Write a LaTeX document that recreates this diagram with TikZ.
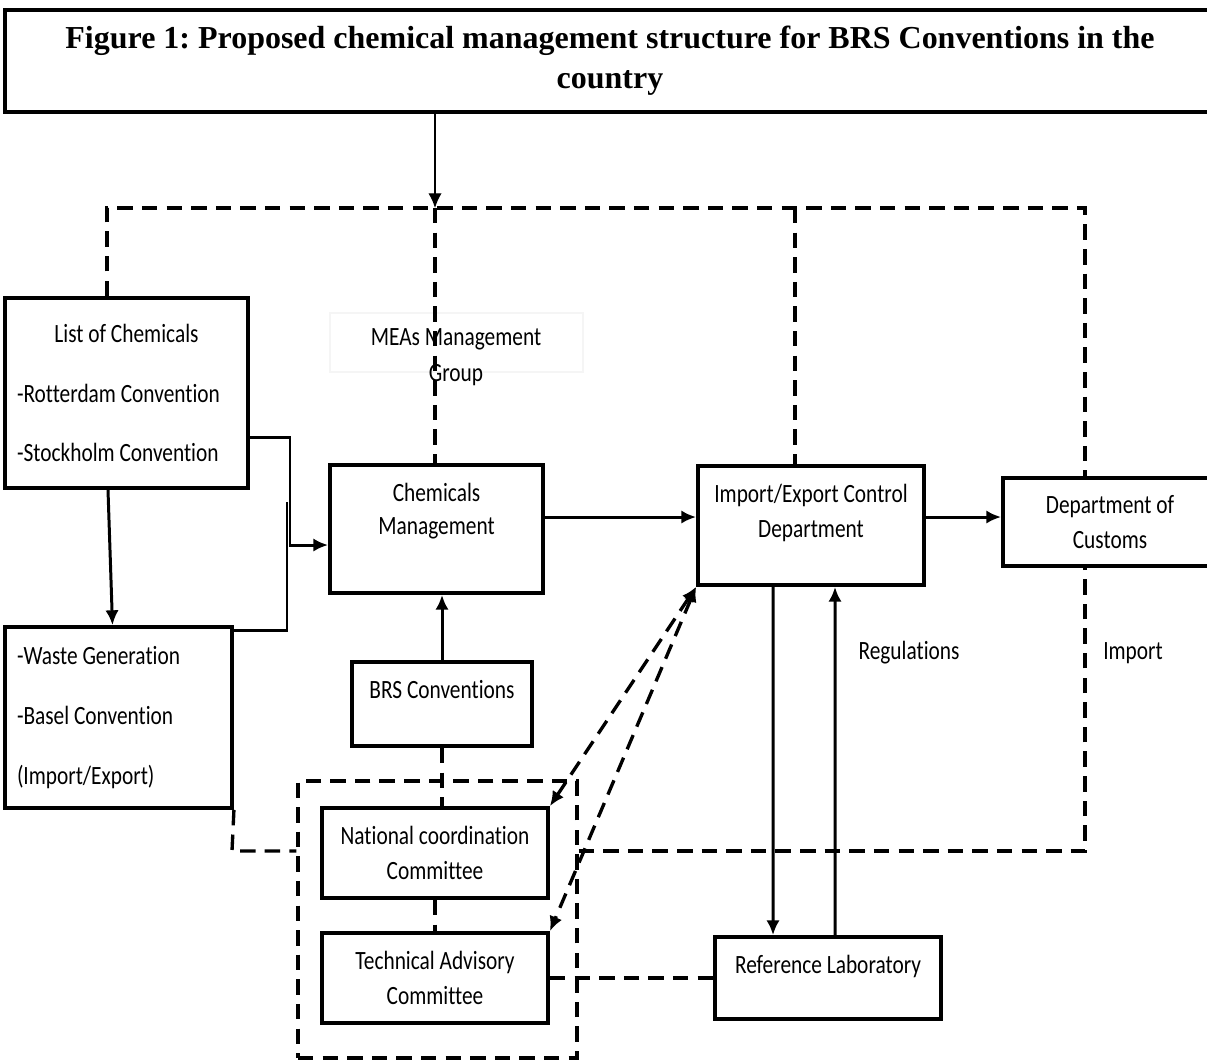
\documentclass[tikz,border=0pt]{standalone}
\usepackage{fontspec}
\setmainfont{Carlito}[FakeStretch=0.81,Ligatures=NoCommon]
\newfontfamily\titlefont{Liberation Serif}
\usetikzlibrary{arrows.meta}
\frenchspacing

\begin{document}
\begin{tikzpicture}[x=1cm,y=-1cm,
  >={Latex[length=4.2pt,width=3.8pt]},
  box/.style={draw, line width=1.1pt, inner sep=0pt, align=center,
    font=\fontsize{7.5}{10}\selectfont},
  listbox/.style={box, align=flush left, inner xsep=0.12cm,
    font=\fontsize{7.5}{17}\selectfont},
  line/.style={line width=0.85pt},
  dline/.style={line width=0.95pt, dash pattern=on 4.4pt off 2.6pt},
  lbl/.style={align=center, inner sep=0pt, font=\fontsize{7.5}{10.2}\selectfont}]
  \useasboundingbox (0,0) rectangle (12.07,10.61);

  % Title
  \node[draw, line width=1.1pt, minimum width=12.1cm, minimum height=1.02cm,
    align=center, font=\titlefont\bfseries\fontsize{9.1}{11.4}\selectfont]
    (title) at (6.10,0.61)
    {Figure 1: Proposed chemical management structure for BRS Conventions in the\\country};

  % Boxes
  \node[listbox, text width=2.19cm, minimum height=1.90cm] (chemlist) at (1.265,3.93)
    {\makebox[\hsize]{List of Chemicals}\\-Rotterdam Convention\\-Stockholm Convention};
  \node[listbox, text width=2.03cm, minimum height=1.81cm] (waste) at (1.185,7.175)
    {-Waste Generation\\-Basel Convention\\(Import/Export)};
  \node[box, minimum width=2.13cm, minimum height=1.28cm, text depth=0.41cm,
    font=\fontsize{7.5}{9.4}\selectfont] (chemmgmt) at (4.365,5.29) {Chemicals\\Management};
  \node[box, minimum width=1.80cm, minimum height=0.84cm, text depth=0.30cm] (brs) at (4.42,7.04)
    {BRS Conventions};
  \node[box, minimum width=2.26cm, minimum height=1.19cm, text depth=0.30cm] (impexp) at (8.11,5.255)
    {Import/Export Control\\Department};
  \node[box, minimum width=2.14cm, minimum height=0.88cm] (customs) at (11.10,5.22)
    {Department of\\Customs};
  \node[box, minimum width=2.26cm, minimum height=0.90cm] (natcom) at (4.35,8.53)
    {National coordination\\Committee};
  \node[box, minimum width=2.26cm, minimum height=0.90cm] (techcom) at (4.35,9.78)
    {Technical Advisory\\Committee};
  \node[box, minimum width=2.26cm, minimum height=0.82cm, text depth=0.27cm] (reflab) at (8.28,9.78)
    {Reference Laboratory};

  % Committee group
  \node[dline, draw, minimum width=2.79cm, minimum height=2.77cm] (group) at (4.375,9.195) {};

  % MEAs label
  \node[draw=black!4, line width=0.3pt, minimum width=2.53cm, minimum height=0.59cm] (mgmtframe)
    at (4.565,3.425) {};
  \node[lbl] (mgmtgroup) at (4.56,3.57) {MEAs Management\\Group};

  % Top dashed bar
  \coordinate (barL) at (1.07,2.08);
  \coordinate (barM) at (4.35,2.08);
  \coordinate (barI) at (7.95,2.08);
  \coordinate (barR) at (10.85,2.08);
  \draw[line width=0.4pt,->] (barM |- title.south) -- (barM);
  \draw[dline] (barL |- chemlist.north) -- (barL) -- (barR) -- (barR |- customs.north);
  \draw[dline] (barM) -- (barM |- chemmgmt.north);
  \draw[dline] (barI) -- (barI |- impexp.north);

  % Lower dashed bar
  \coordinate (lowL) at (2.32,8.51);
  \coordinate (lowR) at (10.85,8.51);
  \draw[dline] (waste.south east) -- (lowL) -- (lowL -| group.west);
  \draw[dline] (lowL -| group.east) -- (lowR) -- (lowR |- customs.south);

  % Lists to chemicals management
  \coordinate (join) at (2.90,5.45);
  \coordinate (joinTop) at (2.87,5.02);
  \draw[line,->] ([xshift=-1.85mm]chemlist.south) -- ([xshift=-0.6mm]waste.north);
  \draw[line,->] ([yshift=-4.4mm]chemlist.east) -| (join) -- (join -| chemmgmt.west);
  \draw[line] ([yshift=8.75mm]waste.east) -| (joinTop);

  % Main flow
  \coordinate (midrow) at (0,5.17);
  \draw[line,->] (chemmgmt.east |- midrow) -- (impexp.west |- midrow);
  \draw[line,->] (impexp.east |- midrow) -- (customs.west |- midrow);
  \draw[line,->] (brs.north) -- (brs.north |- chemmgmt.south);
  \draw[dline] (brs.south) -- (brs.south |- natcom.north);
  \draw[dline] (natcom.south) -- (techcom.north);
  \draw[dline] (techcom.east) -- (reflab.west);

  % Committees and laboratory
  \draw[dline,<->] (impexp.south west) -- (natcom.north east);
  \draw[dline,<->] (impexp.south west) -- (techcom.north east);
  \draw[line,->] ([xshift=-3.8mm]impexp.south) -- ([xshift=-5.5mm]reflab.north);
  \draw[line,->] ([xshift=0.7mm]reflab.north) -- ([xshift=2.4mm]impexp.south);

  % Labels
  \node[lbl] (regs) at (9.09,6.53) {Regulations};
  \node[lbl] (imports) at (11.33,6.53) {Import};
\end{tikzpicture}
\end{document}
